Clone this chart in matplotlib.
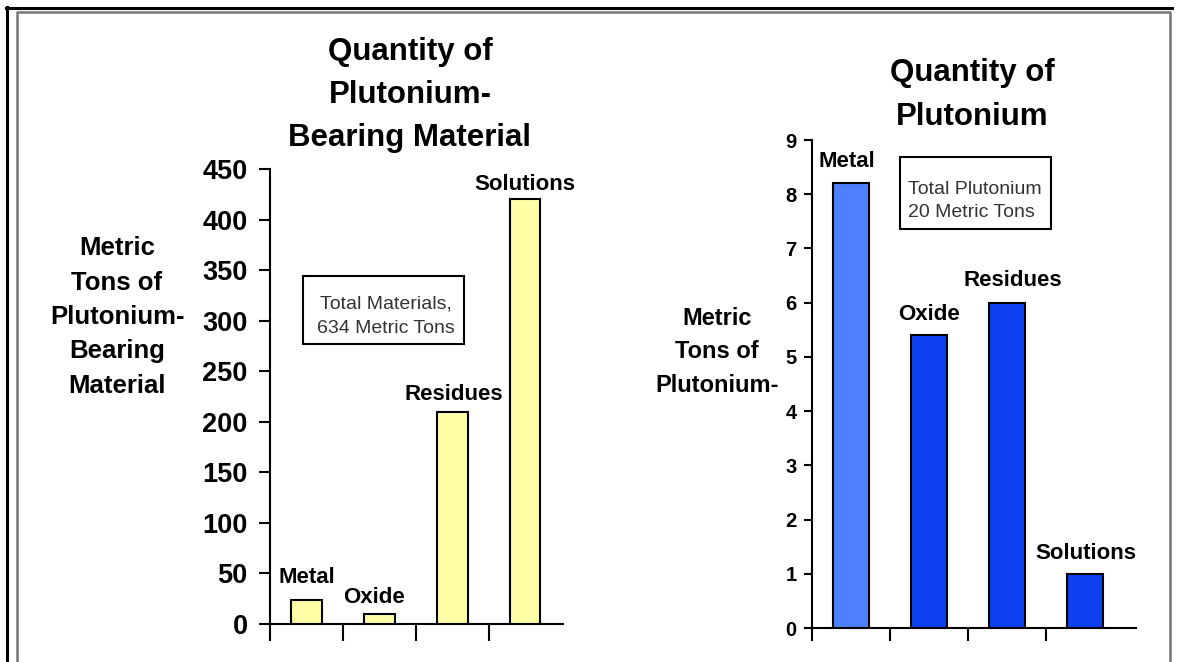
import matplotlib
matplotlib.use("Agg")
import matplotlib.pyplot as plt
from matplotlib.lines import Line2D
from matplotlib.patches import Rectangle

plt.rcParams['font.family'] = ['Liberation Sans', 'DejaVu Sans']

# ---- data ----
categories = ["Metal", "Oxide", "Residues", "Solutions"]
material_tons = [24, 10, 210, 420]
plutonium_tons = [8.2, 5.4, 6.0, 1.0]
left_yticks = [0, 50, 100, 150, 200, 250, 300, 350, 400, 450]
right_yticks = [0, 1, 2, 3, 4, 5, 6, 7, 8, 9]
left_title = "Quantity of\nPlutonium-\nBearing Material"
right_title = "Quantity of\nPlutonium"
left_ylabel = "Metric\nTons of\nPlutonium-\nBearing\nMaterial"
right_ylabel = "Metric\nTons of\nPlutonium-"
left_note = "Total Materials,\n634 Metric Tons"
right_note = "Total Plutonium\n20 Metric Tons"

W, H = 1179, 662
fig = plt.figure(figsize=(W / 100, H / 100), dpi=100)
fig.patch.set_facecolor("white")

def fx(x):
    return x / W

def fy(y):
    return 1 - y / H

# ---- frame lines ----
fig.add_artist(Line2D([fx(7), fx(7)], [fy(7), fy(662)], color="black", lw=2.2, transform=fig.transFigure))
fig.add_artist(Line2D([fx(6), fx(1172)], [fy(7.5), fy(7.5)], color="black", lw=2.2, transform=fig.transFigure))
fig.add_artist(Line2D([fx(17), fx(17), fx(1170), fx(1170)], [fy(662), fy(12), fy(12), fy(662)],
                      color="#777777", lw=1.8, transform=fig.transFigure))

def px_axes(left, top, right, bottom):
    return fig.add_axes([fx(left), fy(bottom), (right - left) / W, (bottom - top) / H])

def style(ax):
    for s in ("top", "right"):
        ax.spines[s].set_visible(False)
    for s in ("left", "bottom"):
        ax.spines[s].set_linewidth(1.5)
        ax.spines[s].set_color("black")
    ax.patch.set_alpha(0)

# ---- left chart ----
axL = px_axes(270, 169, 563, 624)
style(axL)
xs = list(range(len(categories)))
axL.bar(xs, material_tons, width=0.42, color="#ffffa8", edgecolor="black", linewidth=1.5, zorder=3)
axL.set_xlim(-0.5, 3.52)
axL.set_ylim(0, 450)
axL.set_yticks(left_yticks)
axL.set_yticklabels([str(v) for v in left_yticks], fontsize=19.5, fontweight="bold")
axL.set_xticks([-0.5, 0.5, 1.5, 2.5])
axL.set_xticklabels([])
axL.tick_params(axis="y", direction="out", length=8, width=1.5, pad=8)
axL.tick_params(axis="x", direction="out", length=12, width=1.5)
left_dx = [0, -5, 2, 0]
left_dy = [22, 16, 17, 15]
for i, (c, v) in enumerate(zip(categories, material_tons)):
    axL.annotate(c, (i, v), xytext=(left_dx[i], left_dy[i]), textcoords="offset pixels",
                 ha="center", va="center", fontsize=16, fontweight="bold", annotation_clip=False)

fig.text(fx(410), fy(95), left_title, ha="center", va="center", fontsize=22.5,
         fontweight="bold", linespacing=1.56)
fig.text(fx(117), fy(317), left_ylabel, ha="center", va="center", fontsize=18.5,
         fontweight="bold", linespacing=1.54)
fig.add_artist(Rectangle((fx(303), fy(344)), (464 - 303) / W, (344 - 276) / H, transform=fig.transFigure,
                         facecolor="white", edgecolor="black", lw=1.5))
fig.text(fx(386), fy(316), left_note, ha="center", va="center", fontsize=14,
         color="#333333", linespacing=1.55)

# ---- right chart ----
axR = px_axes(812, 140, 1136, 628)
style(axR)
colors = ["#4f80fb", "#0c40f0", "#0c40f0", "#0c40f0"]
axR.bar(xs, plutonium_tons, width=0.46, color=colors, edgecolor="black", linewidth=1.5, zorder=3)
axR.set_xlim(-0.5, 3.65)
axR.set_ylim(0, 9)
axR.set_yticks(right_yticks)
axR.set_yticklabels([str(v) for v in right_yticks], fontsize=14.5, fontweight="bold")
axR.set_xticks([-0.5, 0.5, 1.5, 2.5])
axR.set_xticklabels([])
axR.tick_params(axis="y", direction="out", length=6, width=1.5, pad=5)
axR.tick_params(axis="x", direction="out", length=9, width=1.5)
right_dx = [-4, 0, 6, 1]
right_dy = [22, 21, 22, 20]
for i, (c, v) in enumerate(zip(categories, plutonium_tons)):
    axR.annotate(c, (i, v), xytext=(right_dx[i], right_dy[i]), textcoords="offset pixels",
                 ha="center", va="center", fontsize=16, fontweight="bold", annotation_clip=False)

fig.text(fx(972), fy(95), right_title, ha="center", va="center", fontsize=22.5,
         fontweight="bold", linespacing=1.62)
fig.text(fx(717), fy(352), right_ylabel, ha="center", va="center", fontsize=17,
         fontweight="bold", linespacing=1.6)
fig.add_artist(Rectangle((fx(900), fy(229)), (1051 - 900) / W, (229 - 157) / H, transform=fig.transFigure,
                         facecolor="white", edgecolor="black", lw=1.5))
fig.text(fx(908), fy(201), right_note, ha="left", va="center", fontsize=14,
         color="#333333", linespacing=1.5)

fig.savefig("out.png", dpi=100, facecolor="white")
